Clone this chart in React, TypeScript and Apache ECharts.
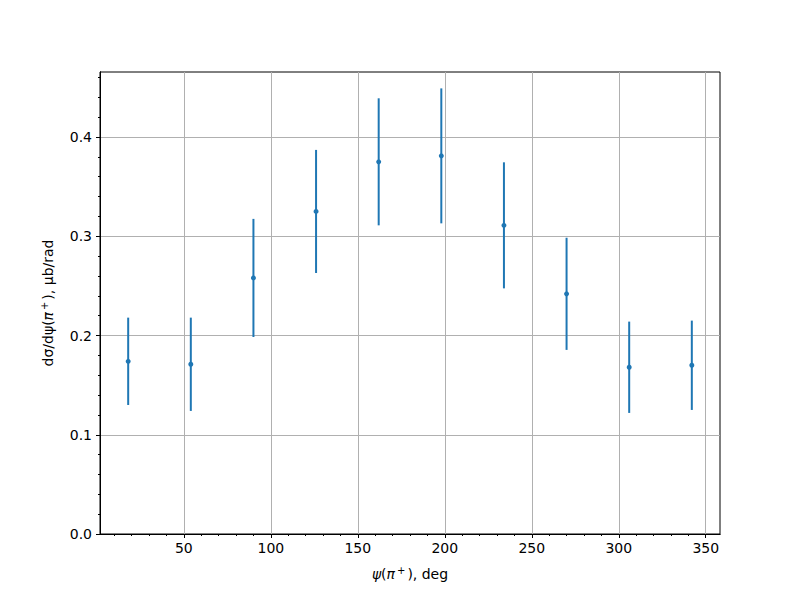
import React, { useEffect, useRef } from "react";
import * as echarts from "echarts";

const xVals = [18, 54, 90, 126, 162, 198, 234, 270, 306, 342];
const yVals = [0.174, 0.171, 0.258, 0.325, 0.375, 0.381, 0.311, 0.242, 0.168, 0.17];
const yErrs = [0.044, 0.047, 0.0595, 0.062, 0.064, 0.068, 0.0635, 0.0565, 0.046, 0.045];

const xMajor = [50, 100, 150, 200, 250, 300, 350];
const xMinor = [10, 20, 30, 40, 60, 70, 80, 90, 110, 120, 130, 140, 160, 170, 180, 190, 210, 220, 230, 240, 260, 270, 280, 290, 310, 320, 330, 340];
const yMajor = [0, 0.1, 0.2, 0.3, 0.4];
const yMinor = [0.02, 0.04, 0.06, 0.08, 0.12, 0.14, 0.16, 0.18, 0.22, 0.24, 0.26, 0.28, 0.32, 0.34, 0.36, 0.38, 0.42, 0.44, 0.46];

const X_MIN = 1.8;
const X_MAX = 358.2;
const Y_MIN = 0;
const Y_MAX = 0.4655;

const COLOR = "#1f77b4";
const FONT = "DejaVu Sans";

export default function App() {
  const ref = useRef<HTMLDivElement>(null);
  useEffect(() => {
    if (!ref.current) return;
    const chart = echarts.init(ref.current, undefined, { renderer: "svg" });
    const richStyles = {
      i: { fontStyle: "italic", fontFamily: FONT, fontSize: 14, color: "#000" },
      s: { fontSize: 10, fontFamily: FONT, color: "#000", padding: [0, 0, 7, 0] },
    };
    const baseAxis = {
      min: X_MIN,
      max: X_MAX,
      type: "value",
      position: "bottom",
      gridIndex: 0,
      axisLine: { onZero: false, lineStyle: { color: "#000", width: 1 } },
    };
    chart.setOption({
      animation: false,
      backgroundColor: "#fff",
      grid: {
        left: 100,
        right: 80,
        top: 72,
        bottom: 66,
        show: true,
        borderColor: "#000",
        borderWidth: 1,
        containLabel: false,
      },
      xAxis: [
        {
          ...baseAxis,
          name: "{i|ψ}({i|π}{s|\u2009+\u2009}), deg",
          nameLocation: "middle",
          nameGap: 31,
          nameTextStyle: { fontFamily: FONT, fontSize: 14, color: "#000", rich: richStyles },
          axisTick: { show: true, length: 4, customValues: xMajor, lineStyle: { color: "#000" } },
          axisLabel: {
            customValues: xMajor,
            margin: 7,
            fontFamily: FONT,
            fontSize: 14,
            color: "#000",
          },
          splitLine: { show: true, lineStyle: { color: "#b0b0b0", width: 1 } },
        },
        {
          ...baseAxis,
          axisTick: { show: true, length: 2, customValues: xMinor, lineStyle: { color: "#000" } },
          axisLabel: { show: false },
          splitLine: { show: false },
        },
      ],
      yAxis: [
        {
          type: "value",
          min: Y_MIN,
          max: Y_MAX,
          position: "left",
          gridIndex: 0,
          name: "dσ/dψ({i|π}{s|\u2009+\u2009}), μb/rad",
          nameLocation: "middle",
          nameGap: 44,
          nameRotate: 90,
          nameTextStyle: { fontFamily: FONT, fontSize: 14, color: "#000", rich: richStyles },
          axisLine: { onZero: false, lineStyle: { color: "#000", width: 1 } },
          axisTick: { show: true, length: 4, customValues: yMajor, lineStyle: { color: "#000" } },
          axisLabel: {
            customValues: yMajor,
            margin: 8,
            fontFamily: FONT,
            fontSize: 14,
            color: "#000",
            formatter: (v: number) => v.toFixed(1),
          },
          splitLine: { show: true, lineStyle: { color: "#b0b0b0", width: 1 } },
        },
        {
          type: "value",
          min: Y_MIN,
          max: Y_MAX,
          position: "left",
          gridIndex: 0,
          axisLine: { onZero: false, lineStyle: { color: "#000", width: 1 } },
          axisTick: { show: true, length: 2, customValues: yMinor, lineStyle: { color: "#000" } },
          axisLabel: { show: false },
          splitLine: { show: false },
        },
      ],
      series: [
        {
          type: "custom",
          xAxisIndex: 0,
          yAxisIndex: 0,
          data: xVals.map((x, i) => [x, yVals[i] - yErrs[i], yVals[i] + yErrs[i]]),
          renderItem: (params: any, api: any) => {
            const lo = api.coord([api.value(0), api.value(1)]);
            const hi = api.coord([api.value(0), api.value(2)]);
            return {
              type: "line",
              shape: { x1: lo[0], y1: lo[1], x2: hi[0], y2: hi[1] },
              style: { stroke: COLOR, lineWidth: 2 },
            };
          },
          z: 3,
        },
        {
          type: "scatter",
          xAxisIndex: 0,
          yAxisIndex: 0,
          data: xVals.map((x, i) => [x, yVals[i]]),
          symbol: "circle",
          symbolSize: 5,
          itemStyle: { color: COLOR, opacity: 1 },
          z: 4,
        },
      ],
    });
    return () => chart.dispose();
  }, []);
  return <div ref={ref} style={{ width: 800, height: 600, position: "absolute", left: 0, top: 0 }} />;
}
